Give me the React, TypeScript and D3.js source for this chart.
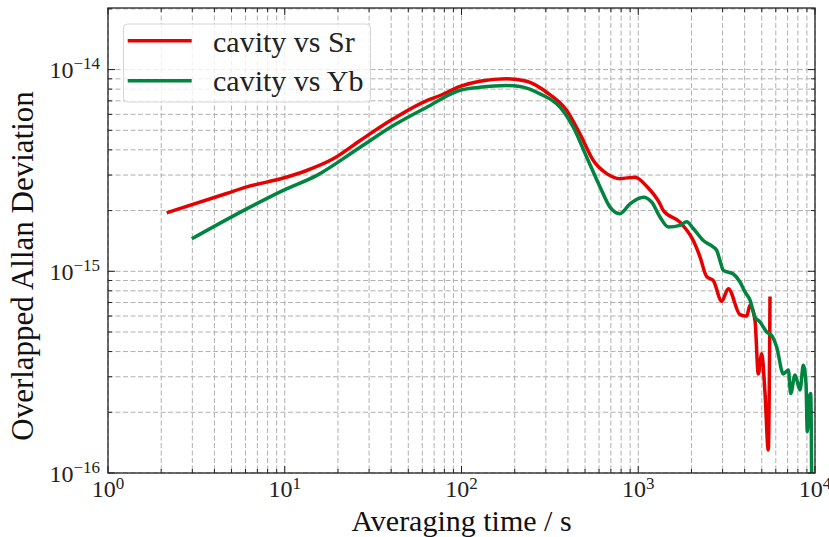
import React from "react";
import * as d3 from "d3";

// Sr comparison (tau in s, ADEV in units of 1e-15)
const tauSr = [2.15, 4.69, 6.09, 9.81, 13.3, 18.8, 26.7, 41.1, 63.6, 75.6, 98.1, 127, 180, 234, 303, 394, 468, 557, 663, 788, 959, 1116, 1327, 1386, 1723, 2048, 2235, 2440, 2658, 2966, 3232, 3765, 4108, 4289, 4576, 4778, 4994, 5213, 5442, 5564];
const adevSr = [1.95, 2.43, 2.62, 2.9, 3.16, 3.61, 4.45, 5.7, 7.02, 7.44, 8.25, 8.75, 9.0, 8.75, 7.72, 6.27, 4.8, 3.54, 3.05, 2.88, 2.93, 2.64, 2.16, 2.0, 1.75, 1.42, 1.18, 0.94, 0.9, 0.71, 0.82, 0.61, 0.6, 0.68, 0.57, 0.31, 0.39, 0.25, 0.13, 0.75];

// Yb comparison
const tauYb = [2.98, 5.83, 9.81, 15.2, 26.7, 41.1, 63.6, 98.1, 127, 180, 214, 278, 361, 429, 511, 608, 692, 788, 898, 1068, 1192, 1327, 1479, 1723, 1880, 2048, 2334, 2658, 2779, 2901, 3029, 3450, 3765, 4018, 4289, 4576, 4885, 5330, 5689, 6072, 6617, 7063, 7289, 7706, 8226, 8586, 8893, 9045, 9283, 9456, 9579];
const adevYb = [1.45, 2.0, 2.52, 2.99, 4.12, 5.28, 6.51, 7.9, 8.17, 8.33, 8.24, 7.58, 6.51, 5.18, 3.68, 2.62, 2.08, 1.93, 2.16, 2.33, 2.2, 1.86, 1.66, 1.69, 1.76, 1.63, 1.42, 1.32, 1.27, 1.13, 1.01, 0.97, 0.885, 0.79, 0.72, 0.594, 0.561, 0.5, 0.48, 0.42, 0.31, 0.324, 0.248, 0.306, 0.258, 0.342, 0.278, 0.16, 0.238, 0.248, 0.09];

const UNIT = 1e-15;
const xMajorExp = [0, 1, 2, 3, 4];
const yMajorExp = [-16, -15, -14];
const seriesNames = ["cavity vs Sr", "cavity vs Yb"];
const seriesColors = ["#e60000", "#00843f"];
const xLabel = "Averaging time / s";
const yLabel = "Overlapped Allan Deviation";

const W = 829, H = 537;
const L = 108, R = 815, T = 8, B = 473;
const FONT = "'Liberation Serif', 'Times New Roman', serif";

export default function App() {
  const x = d3.scaleLog().domain([1, 1e4]).range([L, R]);
  const y = d3.scaleLog().domain([1e-16, 2.02e-14]).range([B, T]);

  const xMinor: number[] = [];
  for (let e = 0; e < 4; e++) for (let m = 2; m <= 9; m++) xMinor.push(m * Math.pow(10, e));
  const yMinor: number[] = [];
  for (let e = -16; e <= -15; e++) for (let m = 2; m <= 9; m++) yMinor.push(m * Math.pow(10, e));
  yMinor.push(2e-14);

  const line = d3.line<[number, number]>().x(d => x(d[0])).y(d => y(d[1])).curve(d3.curveMonotoneX);
  const srPts = tauSr.map((t, i) => [t, adevSr[i] * UNIT] as [number, number]);
  const ybPts = tauYb.map((t, i) => [t, adevYb[i] * UNIT] as [number, number]);

  const gridStyle = { stroke: "#b0b0b0", strokeWidth: 1, strokeDasharray: "5,2.5" };
  const xGridVals = [...xMajorExp.map(e => Math.pow(10, e)), ...xMinor];
  const yGridVals = [...yMajorExp.map(e => Math.pow(10, e)), ...yMinor];

  return (
    <svg width={W} height={H} style={{ position: "absolute", left: 0, top: 0, background: "#fff" }} fontFamily={FONT}>
      <defs>
        <clipPath id="plotclip"><rect x={L} y={T} width={R - L} height={B - T} /></clipPath>
      </defs>
      <rect x={0} y={0} width={W} height={H} fill="#fff" />
      {/* grid */}
      <g>
        {xGridVals.map((v, i) => (
          <line key={"gx" + i} x1={x(v)} x2={x(v)} y1={T} y2={B} {...gridStyle} />
        ))}
        {yGridVals.map((v, i) => (
          <line key={"gy" + i} x1={L} x2={R} y1={y(v)} y2={y(v)} {...gridStyle} />
        ))}
      </g>
      {/* series */}
      <g clipPath="url(#plotclip)" fill="none" strokeLinejoin="round" strokeLinecap="butt">
        <path d={line(srPts) || ""} stroke={seriesColors[0]} strokeWidth={3.5} />
        <path d={line(ybPts) || ""} stroke={seriesColors[1]} strokeWidth={3.5} />
      </g>
      {/* ticks (inward, all sides) */}
      <g stroke="#222" strokeWidth={1}>
        {xMajorExp.map(e => {
          const px = x(Math.pow(10, e));
          return (
            <g key={"xt" + e}>
              <line x1={px} x2={px} y1={B} y2={B - 7} />
              <line x1={px} x2={px} y1={T} y2={T + 7} />
            </g>
          );
        })}
        {xMinor.map((v, i) => (
          <g key={"xm" + i}>
            <line x1={x(v)} x2={x(v)} y1={B} y2={B - 4} />
            <line x1={x(v)} x2={x(v)} y1={T} y2={T + 4} />
          </g>
        ))}
        {yMajorExp.map(e => {
          const py = y(Math.pow(10, e));
          return (
            <g key={"yt" + e}>
              <line x1={L} x2={L + 7} y1={py} y2={py} />
              <line x1={R} x2={R - 7} y1={py} y2={py} />
            </g>
          );
        })}
        {yMinor.map((v, i) => (
          <g key={"ym" + i}>
            <line x1={L} x2={L + 4} y1={y(v)} y2={y(v)} />
            <line x1={R} x2={R - 4} y1={y(v)} y2={y(v)} />
          </g>
        ))}
      </g>
      {/* frame */}
      <rect x={L} y={T} width={R - L} height={B - T} fill="none" stroke="#222" strokeWidth={1.3} />
      {/* tick labels */}
      <g fill="#222">
        {xMajorExp.map(e => (
          <text key={"xl" + e} x={x(Math.pow(10, e))} y={497} textAnchor="middle" fontSize={24}>
            <tspan>10</tspan>
            <tspan fontSize={17} dy={-8}>{String(e)}</tspan>
          </text>
        ))}
        {yMajorExp.map(e => (
          <text key={"yl" + e} x={100} y={y(Math.pow(10, e)) + 8.6} textAnchor="end" fontSize={24}>
            <tspan>10</tspan>
            <tspan fontSize={17} dy={-9}>{"\u2212" + String(-e)}</tspan>
          </text>
        ))}
      </g>
      {/* axis labels */}
      <text x={(L + R) / 2} y={531} textAnchor="middle" fontSize={30} fill="#111">{xLabel}</text>
      <text transform={`translate(33, 266) rotate(-90)`} textAnchor="middle" fontSize={31} fill="#111">{yLabel}</text>
      {/* legend */}
      <g>
        <rect x={123.5} y={24} width={247} height={78} rx={4} fill="#fff" fillOpacity={0.8} stroke="#d6d6d6" strokeWidth={1} />
        {seriesNames.map((n, i) => (
          <g key={"lg" + i}>
            <line x1={127.7} x2={191.7} y1={40.7 + i * 40} y2={40.7 + i * 40} stroke={seriesColors[i]} strokeWidth={3.5} />
            <text x={213} y={51.7 + i * 39} fontSize={30} fill="#222">{n}</text>
          </g>
        ))}
      </g>
    </svg>
  );
}
